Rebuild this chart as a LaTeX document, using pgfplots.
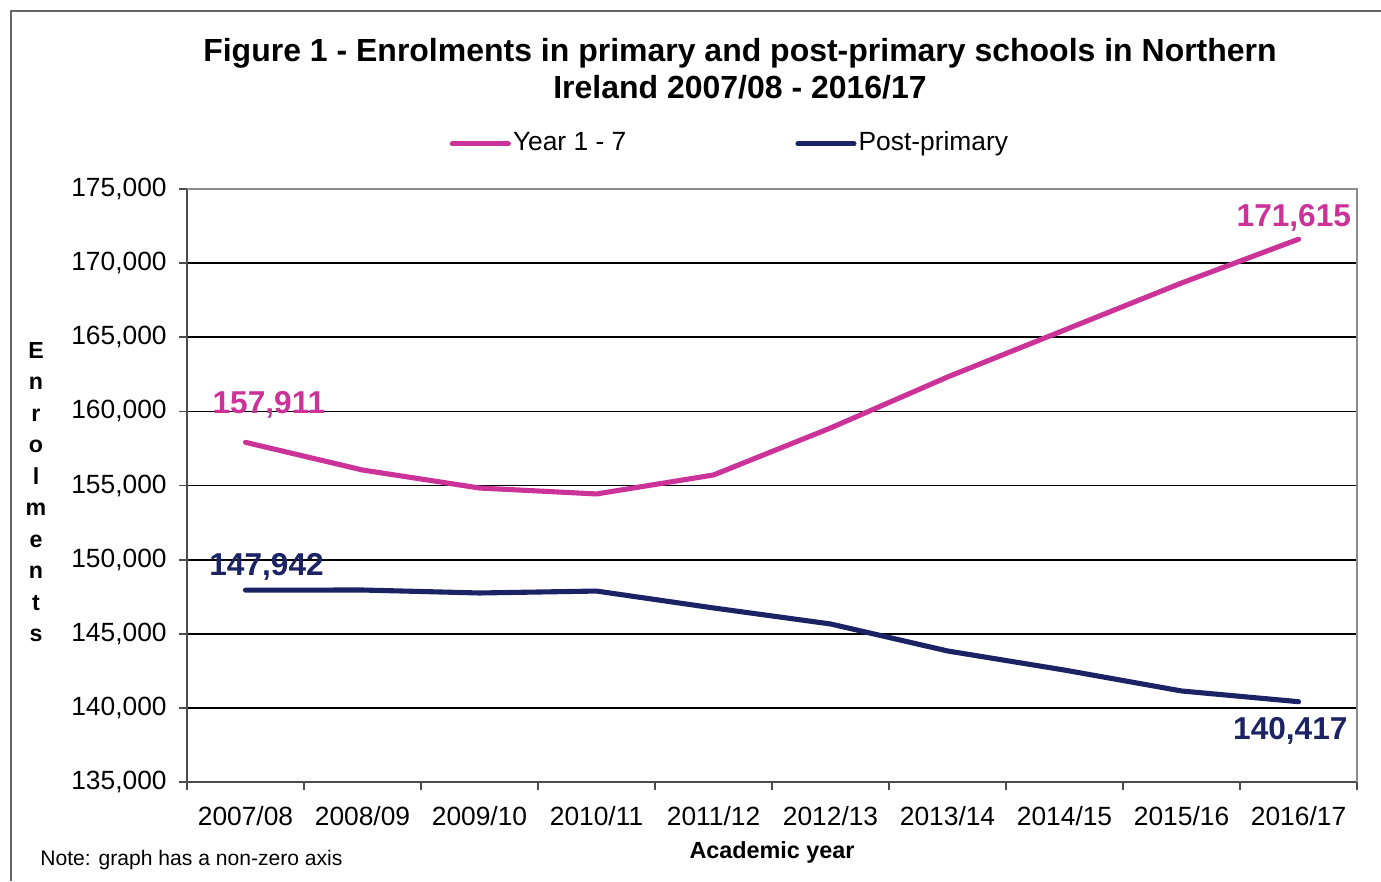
\documentclass[border=0pt]{standalone}
\usepackage{pgfplots}
\pgfplotsset{compat=1.18}
\usepackage{fontspec}
\setmainfont{Liberation Sans}

\definecolor{ypink}{RGB}{204,51,153}
\definecolor{pnavy}{RGB}{28,35,100}

\begin{document}
\begin{tikzpicture}[x=1cm,y=1cm]
\useasboundingbox (0,0) rectangle (13.81,8.81);
\draw[black!60, line width=0.5pt] (0.11,0) -- (0.11,8.70) -- (13.81,8.70);

% title
\node[align=center, font=\fontsize{9.1pt}{10.5pt}\selectfont\bfseries] at (7.40,8.125)
  {Figure 1 - Enrolments in primary and post-primary schools in Northern\\Ireland 2007/08 - 2016/17};

% y label, letters stacked
\node[align=center, font=\fontsize{6.6pt}{8.96pt}\selectfont\bfseries] at (0.36,3.89)
  {E\\n\\r\\o\\l\\m\\e\\n\\t\\s};

% note
\node[anchor=west, font=\fontsize{6pt}{7pt}\selectfont] at (0.28,0.21) {Note: graph has a non-zero axis};

\begin{axis}[
  at={(1.87cm,0.99cm)}, anchor=south west,
  scale only axis,
  width=11.70cm, height=5.93cm,
  xmin=-0.5, xmax=9.5,
  ymin=135000, ymax=175000,
  xtick={0,1,2,3,4,5,6,7,8,9},
  xticklabels={2007/08,2008/09,2009/10,2010/11,2011/12,2012/13,2013/14,2014/15,2015/16,2016/17},
  minor xtick={-0.5,0.5,1.5,2.5,3.5,4.5,5.5,6.5,7.5,8.5,9.5},
  ytick={135000,140000,145000,150000,155000,160000,165000,170000,175000},
  major x tick style={draw=none},
  minor tick length=0.08cm,
  major tick length=0.08cm,
  tick align=outside,
  tick pos=left,
  tick style={black!70, line width=0.5pt},
  scaled y ticks=false,
  /pgf/number format/assume math mode=true,
  yticklabel style={/pgf/number format/fixed, /pgf/number format/1000 sep={,}, font=\fontsize{7.5pt}{9pt}\selectfont},
  xticklabel style={font=\fontsize{7.5pt}{9pt}\selectfont, yshift=-0.04cm},
  ymajorgrids,
  grid style={black, line width=0.5pt},
  axis line style={black!70, line width=0.6pt},
  xlabel={Academic year},
  xlabel style={font=\fontsize{6.65pt}{8pt}\selectfont\bfseries, at={(0.5,-0.118)}, anchor=center},
  legend columns=2,
  legend style={draw=none, fill=none, at={(0.224,1.076)}, anchor=west,
    font=\fontsize{7.5pt}{9pt}\selectfont, inner sep=0pt,
    nodes={inner sep=0.6pt},
    /tikz/every even column/.append style={column sep=1.67cm}},
  legend image code/.code={\draw[#1] (0cm,0cm) -- (0.56cm,0cm);},
  clip=false,
]
\addplot[ypink, line width=1.45pt, line join=round, line cap=round] coordinates {
  (0,157911) (1,156045) (2,154830) (3,154430) (4,155710)
  (5,158880) (6,162320) (7,165490) (8,168660) (9,171615)
};
\addlegendentry{Year 1 - 7}
\addplot[pnavy, line width=1.45pt, line join=round, line cap=round] coordinates {
  (0,147942) (1,147950) (2,147750) (3,147880) (4,146740)
  (5,145660) (6,143840) (7,142550) (8,141140) (9,140417)
};
\addlegendentry{Post-primary}

\draw[black!45, line width=0.6pt] (rel axis cs:0,1) -- (rel axis cs:1,1) -- (rel axis cs:1,0);

\node[ypink, font=\fontsize{9pt}{10pt}\selectfont\bfseries] at (axis cs:0.2,160430) {157,911};
\node[pnavy, font=\fontsize{9pt}{10pt}\selectfont\bfseries] at (axis cs:0.18,149500) {147,942};
\node[ypink, font=\fontsize{9pt}{10pt}\selectfont\bfseries] at (axis cs:8.96,173050) {171,615};
\node[pnavy, font=\fontsize{9pt}{10pt}\selectfont\bfseries] at (axis cs:8.93,138440) {140,417};
\end{axis}
\end{tikzpicture}
\end{document}
